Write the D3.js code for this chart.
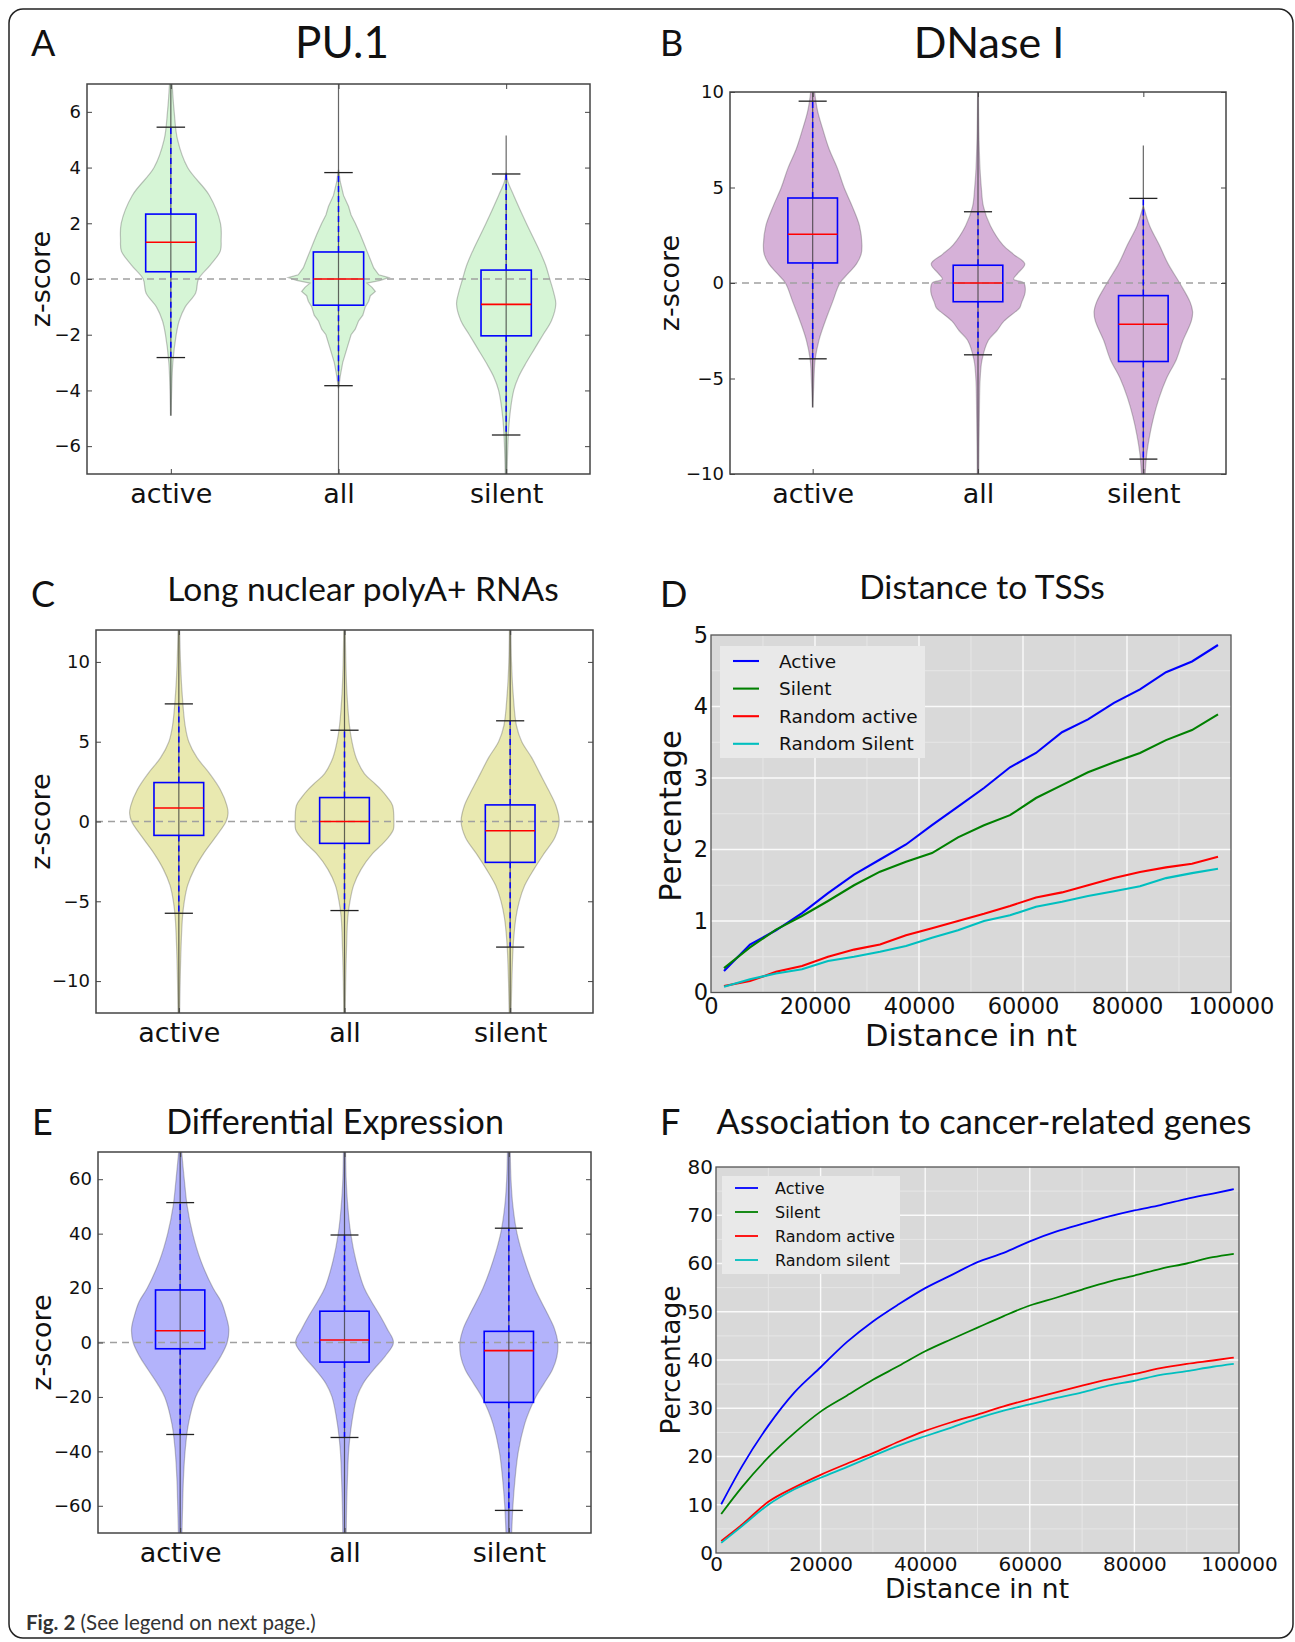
<!DOCTYPE html>
<html>
<head>
<meta charset="utf-8">
<script src="https://cdn.jsdelivr.net/npm/d3@7"></script>
<style>
  body { margin: 0; background: #fff; }
  svg text { fill: #111; }
</style>
</head>
<body>
<div id="fig"></div>
<script>
// ---- data ----
var categories = ["active", "all", "silent"];

// A: PU.1  (box stats: lower cap, q1, median, q3, upper cap)
var pu1Stats = [
  {lo: -2.82, q1: 0.26, med: 1.32, q3: 2.33, hi: 5.45},
  {lo: -3.83, q1: -0.94, med: 0, q3: 0.97, hi: 3.82},
  {lo: -5.6, q1: -2.04, med: -0.91, q3: 0.32, hi: 3.77}
];
var pu1Extent = [[-4.9, 8], [-8, 8], [-8, 5.15]];
// violin outlines: [z, half width in category units]
var pu1Active = [[7.5,.005],[7,.008],[6,.02],[5,.04],[4,.1],[3,.23],[2,.296],[1.4,.3],[1,.295],[0.5,.235],[0,.165],[-0.5,.148],[-1,.086],[-1.5,.05],[-2,.032],[-3,.012],[-4,.005],[-4.9,.002]];
var pu1All = [[3.9,.002],[3.5,.01],[3,.03],[2.6,.06],[2.3,.075],[2,.1],[1.6,.13],[1.3,.15],[1,.17],[0.7,.19],[0.4,.21],[0.15,.24],[0.05,.3],[-0.05,.25],[-0.15,.17],[-0.3,.2],[-0.45,.22],[-0.6,.19],[-0.8,.18],[-1,.16],[-1.3,.145],[-1.5,.12],[-1.8,.1],[-2,.075],[-2.5,.05],[-3,.025],[-3.5,.01],[-3.9,.002]];
var pu1Silent = [[3.8,.002],[3.5,.01],[3,.045],[2,.12],[1,.2],[0.5,.235],[0,.26],[-0.5,.284],[-0.9,.296],[-1.5,.27],[-2,.22],[-2.5,.17],[-3,.12],[-3.5,.075],[-4,.045],[-5,.02],[-6,.01],[-7.5,.004]];

// B: DNase I
var dnaseStats = [
  {lo: -3.97, q1: 1.05, med: 2.55, q3: 4.45, hi: 9.52},
  {lo: -3.76, q1: -0.98, med: 0, q3: 0.93, hi: 3.73},
  {lo: -9.22, q1: -4.11, med: -2.16, q3: -0.66, hi: 4.43}
];
var dnaseExtent = [[-6.5, 11], [-11, 11], [-11, 7.2]];
var dnaseActive = [[10.5,.008],[10,.012],[9,.03],[8,.063],[7,.1],[6,.15],[5,.19],[4,.24],[3,.283],[2,.298],[1.5,.293],[1,.265],[0.5,.215],[0,.165],[-1,.12],[-2,.076],[-3,.038],[-4,.015],[-5,.008],[-6.5,.002]];
var dnaseAll = [[10.5,.002],[8,.005],[6,.012],[5,.02],[4,.033],[3,.075],[2,.15],[1.5,.215],[1,.283],[0.5,.24],[0.2,.215],[0,.278],[-0.5,.285],[-1,.265],[-1.3,.252],[-1.5,.227],[-2,.157],[-2.5,.114],[-3,.063],[-4,.025],[-5,.013],[-7,.008],[-10.5,.004]];
var dnaseSilent = [[4,.002],[3,.038],[2,.096],[1,.15],[0,.22],[-1,.283],[-1.5,.298],[-2,.29],[-3,.24],[-4,.2],[-5,.14],[-6,.096],[-7,.063],[-8,.038],[-9,.02],[-10.5,.008]];

// C: Long nuclear polyA+ RNAs
var polyaStats = [
  {lo: -5.75, q1: -0.87, med: 0.85, q3: 2.44, hi: 7.37},
  {lo: -5.58, q1: -1.37, med: 0, q3: 1.5, hi: 5.72},
  {lo: -7.87, q1: -2.56, med: -0.58, q3: 1.04, hi: 6.31}
];
var polyaExtent = [[-13, 13], [-13, 13], [-13, 13]];
var polyaActive = [[12.5,.004],[10,.01],[8,.02],[6,.038],[5,.06],[4,.11],[3,.186],[2,.25],[1,.29],[0.5,.297],[0,.285],[-1,.22],[-2,.15],[-3,.093],[-4,.053],[-5,.033],[-6,.022],[-8,.013],[-10,.008],[-12.5,.004]];
var polyaAll = [[12.5,.004],[10,.008],[8,.015],[6,.03],[5,.045],[4,.07],[3,.12],[2.5,.17],[2,.22],[1.5,.26],[1,.29],[0,.298],[-0.5,.295],[-1,.265],[-1.5,.22],[-2,.17],[-3,.1],[-4,.055],[-5,.033],[-6,.02],[-8,.012],[-10,.007],[-12.5,.004]];
var polyaSilent = [[12.5,.004],[10,.008],[8,.018],[6,.038],[5,.07],[4,.13],[3,.18],[2,.23],[1,.276],[0,.296],[-1,.27],[-2,.205],[-3,.143],[-4,.088],[-5,.055],[-6,.035],[-7,.024],[-8,.017],[-10,.01],[-12.5,.005]];

// E: Differential Expression
var diffStats = [
  {lo: -33.8, q1: -2.3, med: 4.3, q3: 19.3, hi: 51.4},
  {lo: -34.9, q1: -7.2, med: 0.9, q3: 11.5, hi: 39.5},
  {lo: -61.7, q1: -22, med: -3, q3: 4.1, hi: 42}
];
var diffExtent = [[-75, 75], [-75, 75], [-75, 75]];
var diffActive = [[72,.006],[60,.025],[50,.043],[40,.076],[30,.126],[20,.2],[15,.25],[10,.278],[5,.296],[0,.286],[-5,.248],[-10,.195],[-15,.14],[-20,.094],[-30,.05],[-40,.03],[-50,.02],[-60,.015],[-72,.01]];
var diffAll = [[72,.006],[60,.01],[50,.02],[40,.038],[30,.07],[20,.12],[15,.165],[10,.215],[5,.26],[0,.298],[-5,.248],[-10,.177],[-15,.114],[-20,.076],[-30,.043],[-40,.025],[-50,.018],[-60,.013],[-72,.01]];
var diffSilent = [[72,.008],[60,.013],[50,.025],[40,.05],[30,.096],[20,.157],[10,.24],[5,.278],[0,.298],[-5,.293],[-10,.265],[-15,.215],[-20,.164],[-25,.126],[-30,.096],[-40,.058],[-50,.038],[-60,.025],[-72,.016]];

// D: Distance to TSSs
var tssDistance = [2500, 7500, 12500, 17500, 22500, 27500, 32500, 37500, 42500, 47500, 52500, 57500, 62500, 67500, 72500, 77500, 82500, 87500, 92500, 97500];
var tssActive = [0.30,0.67,0.87,1.11,1.39,1.65,1.86,2.07,2.34,2.60,2.86,3.15,3.35,3.64,3.82,4.05,4.24,4.48,4.63,4.86];
var tssSilent = [0.34,0.63,0.88,1.07,1.28,1.50,1.69,1.83,1.95,2.17,2.34,2.48,2.72,2.90,3.08,3.22,3.35,3.53,3.67,3.89];
var tssRandomActive = [0.09,0.16,0.29,0.37,0.50,0.60,0.67,0.80,0.90,1.00,1.10,1.21,1.33,1.40,1.50,1.60,1.685,1.75,1.80,1.90];
var tssRandomSilent = [0.08,0.185,0.265,0.325,0.44,0.50,0.57,0.65,0.765,0.87,1.00,1.08,1.20,1.27,1.35,1.415,1.485,1.60,1.67,1.73];
var tssNames = ["Active", "Silent", "Random active", "Random Silent"];

// F: Association to cancer-related genes
var cancerDistance = [1000, 5000, 10000, 15000, 20000, 25000, 30000, 35000, 40000, 45000, 50000, 55000, 60000, 65000, 70000, 75000, 80000, 85000, 90000, 95000, 99000];
var cancerActive = [10.1,18,26.4,33.3,38.5,43.7,48,51.6,54.9,57.6,60.3,62.2,64.6,66.6,68.2,69.7,71,72.1,73.4,74.5,75.4];
var cancerSilent = [8.1,13.7,19.8,24.9,29.3,32.6,35.9,38.8,41.8,44.3,46.7,49.1,51.3,52.9,54.6,56.2,57.5,58.9,60,61.3,62];
var cancerRandomActive = [2.5,5.9,10.6,13.6,16.2,18.5,20.7,23.1,25.3,27.1,28.7,30.4,31.9,33.3,34.7,36,37.1,38.3,39.2,39.9,40.5];
var cancerRandomSilent = [2.1,5.6,10,13.2,15.6,17.8,20.1,22.3,24.2,26,27.9,29.5,30.8,32.1,33.3,34.7,35.7,36.9,37.7,38.6,39.2];
var cancerNames = ["Active", "Silent", "Random active", "Random silent"];

var lineColors = ["#0000ff", "#008000", "#ff0000", "#00bfbf"];

// ---- layout ----
var W = 1295, H = 1642;
var svg = d3.select("#fig").append("svg").attr("width", W).attr("height", H);

svg.append("rect")
  .attr("x", 9).attr("y", 9).attr("width", 1284).attr("height", 1629)
  .attr("rx", 14).attr("fill", "none").attr("stroke", "#222").attr("stroke-width", 1.5);

var violinPanels = [
  {id: "A", title: "PU.1", tsize: 44, tx: 342, ty: 58, lx: 31, ly: 56,
   left: 87, right: 590, top: 84, bottom: 474, domain: [-7, 7], ticks: [-6, -4, -2, 0, 2, 4, 6],
   fill: "#d6f5d6", stats: pu1Stats, extent: pu1Extent, shapes: [pu1Active, pu1All, pu1Silent], jagged: [false, true, false], ylx: 50},
  {id: "B", title: "DNase I", tsize: 43, tx: 989, ty: 58, lx: 660, ly: 56,
   left: 730, right: 1226, top: 92, bottom: 474, domain: [-10, 10], ticks: [-10, -5, 0, 5, 10],
   fill: "#d6b1d8", stats: dnaseStats, extent: dnaseExtent, shapes: [dnaseActive, dnaseAll, dnaseSilent], jagged: [false, false, false], ylx: 679},
  {id: "C", title: "Long nuclear polyA+ RNAs", tsize: 33.5, tx: 363, ty: 601, lx: 31, ly: 607,
   left: 96, right: 593, top: 630, bottom: 1013, domain: [-12, 12], ticks: [-10, -5, 0, 5, 10],
   fill: "#e9e9b0", stats: polyaStats, extent: polyaExtent, shapes: [polyaActive, polyaAll, polyaSilent], jagged: [false, false, false], ylx: 50},
  {id: "E", title: "Differential Expression", tsize: 34, tx: 335, ty: 1134, lx: 32, ly: 1135,
   left: 98, right: 591, top: 1152, bottom: 1533, domain: [-70, 70], ticks: [-60, -40, -20, 0, 20, 40, 60],
   fill: "#b3b3fb", stats: diffStats, extent: diffExtent, shapes: [diffActive, diffAll, diffSilent], jagged: [false, false, false], ylx: 51}
];

var linePanels = [
  {id: "D", title: "Distance to TSSs", tsize: 33.5, tx: 982, ty: 599, lx: 660, ly: 607,
   left: 711, right: 1231, top: 635, bottom: 992.5, domain: [0, 5], major: [1, 2, 3, 4], minor: [0.5, 1.5, 2.5, 3.5, 4.5],
   yticks: [0, 1, 2, 3, 4, 5], tickSize: 22.5, tickPad: 6, labelSize: 30.5, xlabY: 1046, xlabX: 971, ylabX: 681, ylabY: 816,
   xs: tssDistance, series: [tssActive, tssSilent, tssRandomActive, tssRandomSilent], names: tssNames, curve: d3.curveLinear,
   legend: {x: 720, y: 646, w: 205, h: 112, row0: 661, step: 27.6, lx0: 733, lx1: 759, tx: 779, size: 18.5}, lw: 2.1},
  {id: "F", title: "Association to cancer-related genes", tsize: 34.3, tx: 984, ty: 1134, lx: 660, ly: 1135,
   left: 716, right: 1239, top: 1167, bottom: 1553, domain: [0, 80], major: [10, 20, 30, 40, 50, 60, 70], minor: [5, 15, 25, 35, 45, 55, 65, 75],
   yticks: [0, 10, 20, 30, 40, 50, 60, 70, 80], tickSize: 20, tickPad: 4, labelSize: 26.5, xlabY: 1598, xlabX: 977, ylabX: 680, ylabY: 1360,
   xs: cancerDistance, series: [cancerActive, cancerSilent, cancerRandomActive, cancerRandomSilent], names: cancerNames, curve: d3.curveMonotoneX,
   legend: {x: 722, y: 1176, w: 178, h: 98, row0: 1188, step: 24, lx0: 735, lx1: 758, tx: 775, size: 16}, lw: 1.8}
];

function panelHeader(p) {
  svg.append("text").attr("x", p.lx).attr("y", p.ly)
    .style("font-family", "Lato, 'Open Sans', sans-serif").style("font-size", "36px")
    .text(p.id);
  svg.append("text").attr("x", p.tx).attr("y", p.ty).attr("text-anchor", "middle")
    .style("font-family", "Lato, 'Open Sans', sans-serif").style("font-size", p.tsize + "px")
    .text(p.title);
}

function drawViolinPanel(p) {
  var x = d3.scaleLinear().domain([0.5, 3.5]).range([p.left, p.right]);
  var y = d3.scaleLinear().domain(p.domain).range([p.bottom, p.top]);
  var g = svg.append("g");

  svg.append("clipPath").attr("id", "clip" + p.id).append("rect")
    .attr("x", p.left).attr("y", p.top)
    .attr("width", p.right - p.left).attr("height", p.bottom - p.top);
  var plot = g.append("g").attr("clip-path", "url(#clip" + p.id + ")");

  p.shapes.forEach(function (shape, i) {
    var area = d3.area()
      .y(function (d) { return y(d[0]); })
      .x0(function (d) { return x(i + 1 - d[1]); })
      .x1(function (d) { return x(i + 1 + d[1]); })
      .curve(p.jagged[i] ? d3.curveLinear : d3.curveCatmullRom);
    plot.append("path").attr("d", area(shape))
      .attr("fill", p.fill).attr("stroke", "rgba(60,60,60,0.3)").attr("stroke-width", 1.2);
  });

  plot.append("line")
    .attr("x1", p.left).attr("x2", p.right).attr("y1", y(0)).attr("y2", y(0))
    .attr("stroke", "#a0a0a0").attr("stroke-width", 1.3).attr("stroke-dasharray", "7,5");

  p.extent.forEach(function (e, i) {
    plot.append("line")
      .attr("x1", x(i + 1)).attr("x2", x(i + 1)).attr("y1", y(e[0])).attr("y2", y(e[1]))
      .attr("stroke", "#333").attr("stroke-opacity", 0.75).attr("stroke-width", 1.2);
  });

  p.stats.forEach(function (s, i) {
    var c = i + 1;
    // whiskers
    [[s.q3, s.hi], [s.q1, s.lo]].forEach(function (w) {
      plot.append("line")
        .attr("x1", x(c)).attr("x2", x(c)).attr("y1", y(w[0])).attr("y2", y(w[1]))
        .attr("stroke", "#0000ff").attr("stroke-width", 1.5).attr("stroke-dasharray", "6,4");
    });
    // caps
    [s.hi, s.lo].forEach(function (v) {
      plot.append("line")
        .attr("x1", x(c - 0.085)).attr("x2", x(c + 0.085)).attr("y1", y(v)).attr("y2", y(v))
        .attr("stroke", "#222").attr("stroke-width", 1.3);
    });
    plot.append("rect")
      .attr("x", x(c - 0.15)).attr("y", y(s.q3))
      .attr("width", x(c + 0.15) - x(c - 0.15)).attr("height", y(s.q1) - y(s.q3))
      .attr("fill", "none").attr("stroke", "#0000ff").attr("stroke-width", 1.6);
    plot.append("line")
      .attr("x1", x(c - 0.15)).attr("x2", x(c + 0.15)).attr("y1", y(s.med)).attr("y2", y(s.med))
      .attr("stroke", "#ff0000").attr("stroke-width", 1.6);
  });

  // axes: classic inward ticks on all sides
  var fontTick = "'DejaVu Sans', sans-serif";
  var ax = g.append("g").attr("transform", "translate(" + p.left + ",0)")
    .call(d3.axisLeft(y).tickValues(p.ticks).tickSize(-5).tickPadding(6));
  ax.selectAll("text").style("font-family", fontTick).style("font-size", "18px");
  g.append("g").attr("transform", "translate(" + p.right + ",0)")
    .call(d3.axisRight(y).tickValues(p.ticks).tickSize(-5).tickFormat(""));
  var bx = g.append("g").attr("transform", "translate(0," + p.bottom + ")")
    .call(d3.axisBottom(x).tickValues([1, 2, 3]).tickSize(-5).tickPadding(10)
      .tickFormat(function (d) { return categories[d - 1]; }));
  bx.selectAll("text").style("font-family", fontTick).style("font-size", "27px");
  g.append("g").attr("transform", "translate(0," + p.top + ")")
    .call(d3.axisTop(x).tickValues([1, 2, 3]).tickSize(-5).tickFormat(""));
  g.selectAll(".domain").remove();
  g.selectAll(".tick line").attr("stroke", "#444");

  g.append("rect")
    .attr("x", p.left).attr("y", p.top).attr("width", p.right - p.left).attr("height", p.bottom - p.top)
    .attr("fill", "none").attr("stroke", "#444").attr("stroke-width", 1.5);

  svg.append("text")
    .attr("transform", "translate(" + p.ylx + "," + ((p.top + p.bottom) / 2) + ") rotate(-90)")
    .attr("text-anchor", "middle")
    .style("font-family", fontTick).style("font-size", "27px")
    .text("z-score");

  panelHeader(p);
}

function drawLinePanel(p) {
  var x = d3.scaleLinear().domain([0, 100000]).range([p.left, p.right]);
  var y = d3.scaleLinear().domain(p.domain).range([p.bottom, p.top]);
  var g = svg.append("g");
  var fontTick = "'DejaVu Sans', sans-serif";

  g.append("rect")
    .attr("x", p.left).attr("y", p.top).attr("width", p.right - p.left).attr("height", p.bottom - p.top)
    .attr("fill", "#d9d9d9");

  var minorX = [10000, 30000, 50000, 70000, 90000];
  var majorX = [20000, 40000, 60000, 80000];
  g.selectAll(null).data(minorX).enter().append("line")
    .attr("x1", function (d) { return x(d); }).attr("x2", function (d) { return x(d); })
    .attr("y1", p.top).attr("y2", p.bottom).attr("stroke", "#e6e6e6").attr("stroke-width", 1);
  g.selectAll(null).data(p.minor).enter().append("line")
    .attr("y1", function (d) { return y(d); }).attr("y2", function (d) { return y(d); })
    .attr("x1", p.left).attr("x2", p.right).attr("stroke", "#e6e6e6").attr("stroke-width", 1);
  g.selectAll(null).data(majorX).enter().append("line")
    .attr("x1", function (d) { return x(d); }).attr("x2", function (d) { return x(d); })
    .attr("y1", p.top).attr("y2", p.bottom).attr("stroke", "#fafafa").attr("stroke-width", 1.4);
  g.selectAll(null).data(p.major).enter().append("line")
    .attr("y1", function (d) { return y(d); }).attr("y2", function (d) { return y(d); })
    .attr("x1", p.left).attr("x2", p.right).attr("stroke", "#fafafa").attr("stroke-width", 1.4);

  var line = d3.line()
    .x(function (d, i) { return x(p.xs[i]); })
    .y(function (d) { return y(d); })
    .curve(p.curve);
  p.series.forEach(function (s, k) {
    g.append("path").attr("d", line(s))
      .attr("fill", "none").attr("stroke", lineColors[k]).attr("stroke-width", p.lw);
  });

  var L = p.legend;
  g.append("rect").attr("x", L.x).attr("y", L.y).attr("width", L.w).attr("height", L.h)
    .attr("fill", "#e9e9e9");
  p.names.forEach(function (name, k) {
    var ry = L.row0 + k * L.step;
    g.append("line").attr("x1", L.lx0).attr("x2", L.lx1).attr("y1", ry).attr("y2", ry)
      .attr("stroke", lineColors[k]).attr("stroke-width", p.lw);
    g.append("text").attr("x", L.tx).attr("y", ry).attr("dy", "0.36em")
      .style("font-family", fontTick).style("font-size", L.size + "px").text(name);
  });

  g.append("rect")
    .attr("x", p.left).attr("y", p.top).attr("width", p.right - p.left).attr("height", p.bottom - p.top)
    .attr("fill", "none").attr("stroke", "#555").attr("stroke-width", 1.3);

  var ay = g.append("g").attr("transform", "translate(" + p.left + ",0)")
    .call(d3.axisLeft(y).tickValues(p.yticks).tickSize(0).tickPadding(3).tickFormat(d3.format("d")));
  ay.selectAll("text").style("font-family", fontTick).style("font-size", p.tickSize + "px");
  var axb = g.append("g").attr("transform", "translate(0," + p.bottom + ")")
    .call(d3.axisBottom(x).tickValues([0, 20000, 40000, 60000, 80000, 100000]).tickSize(0).tickPadding(p.tickPad)
      .tickFormat(d3.format("d")));
  axb.selectAll("text").style("font-family", fontTick).style("font-size", p.tickSize + "px");
  g.selectAll(".domain").remove();

  svg.append("text").attr("x", p.xlabX).attr("y", p.xlabY).attr("text-anchor", "middle")
    .style("font-family", fontTick).style("font-size", p.labelSize + "px").text("Distance in nt");
  svg.append("text")
    .attr("transform", "translate(" + p.ylabX + "," + p.ylabY + ") rotate(-90)")
    .attr("text-anchor", "middle")
    .style("font-family", fontTick).style("font-size", p.labelSize + "px").text("Percentage");

  panelHeader(p);
}

violinPanels.forEach(drawViolinPanel);
linePanels.forEach(drawLinePanel);

var cap = svg.append("text").attr("x", 26).attr("y", 1630)
  .style("font-family", "Lato, 'Open Sans', sans-serif").style("font-size", "20.5px");
cap.append("tspan").style("font-weight", "bold").style("fill", "#333").text("Fig. 2");
cap.append("tspan").style("fill", "#333").text(" (See legend on next page.)");
</script>
</body>
</html>
